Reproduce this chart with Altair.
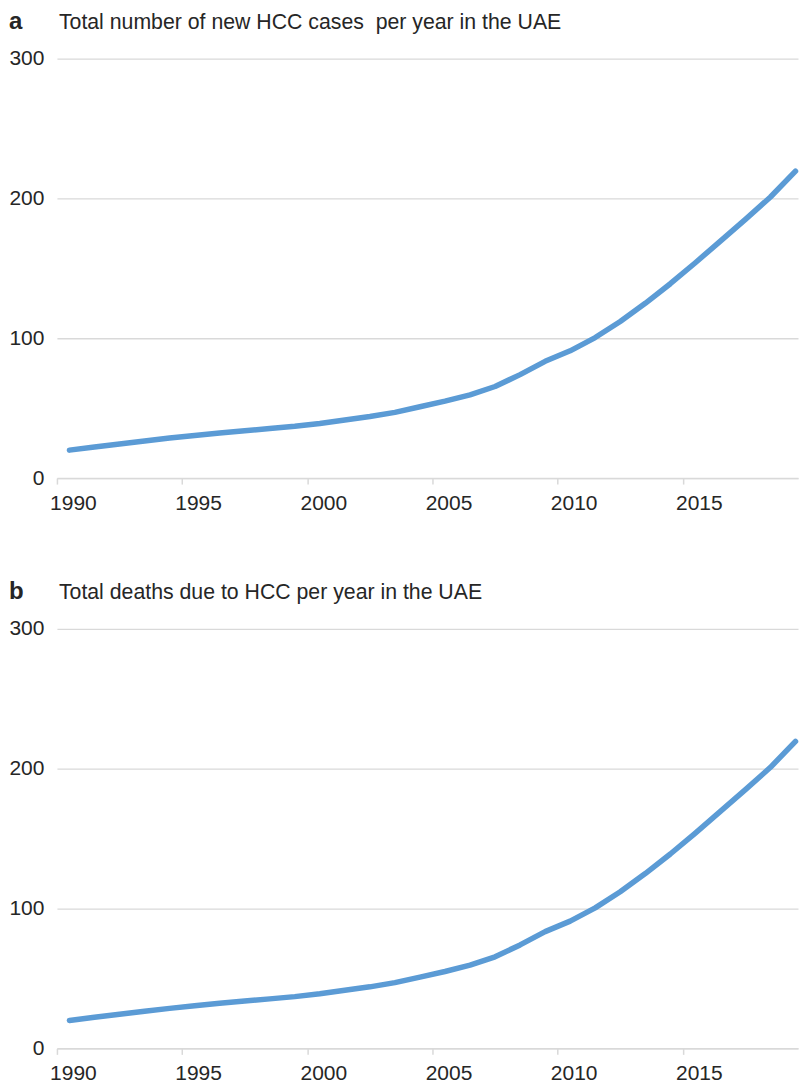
import altair as alt
import pandas as pd

# Yearly series, 1990-2019
years = list(range(1990, 2020))
new_cases = [20, 22.2, 24.4, 26.5, 28.6, 30.5, 32.2, 33.8, 35.4, 37,
             39, 41.5, 44, 47, 51, 55, 59.5, 65.5, 74, 83.5,
             91, 100.5, 112, 125, 139, 154, 169.5, 185, 201, 219.5]
deaths = [20, 22.2, 24.4, 26.5, 28.6, 30.5, 32.2, 33.8, 35.4, 37,
          39, 41.5, 44, 47, 51, 55, 59.5, 65.5, 74, 83.5,
          91, 100.5, 112, 125, 139, 154, 169.5, 185, 201, 219.5]

x_ticks = [1990, 1995, 2000, 2005, 2010, 2015]
y_ticks = [0, 100, 200, 300]

TEXT = "#262626"
GRID = "#d9d9d9"
BLUE = "#5B9BD5"
FONT = "Liberation Sans"
PLOT_W = 742
PLOT_H = 420
STEP = PLOT_W / 29.6  # pixels per year


def panel(letter, heading, values):
    df = pd.DataFrame({"year": years, "value": values})
    x = alt.X(
        "year:Q",
        title=None,
        scale=alt.Scale(domain=[1989.5, 2019.1], nice=False, zero=False),
        axis=alt.Axis(
            values=x_ticks, format="d", grid=False,
            domainColor=GRID, domainWidth=1.5,
            ticks=True, tickSize=6, tickColor=GRID, tickWidth=1.5,
            tickOffset=-STEP / 2, labelOffset=STEP / 2 + 3.5,
            labelFlush=False, labelPadding=8,
            labelFont=FONT, labelFontSize=21, labelColor=TEXT,
        ),
    )
    y = alt.Y(
        "value:Q",
        title=None,
        scale=alt.Scale(domain=[0, 300], nice=False),
        axis=alt.Axis(
            values=y_ticks, domain=False, ticks=False,
            grid=True, gridColor=GRID, gridWidth=1.3,
            labelPadding=13, labelFont=FONT, labelFontSize=21,
            labelColor=TEXT,
        ),
    )
    line = alt.Chart(df).mark_line(
        color=BLUE, strokeWidth=5.5, strokeCap="round", strokeJoin="round"
    ).encode(x=x, y=y)

    tag = alt.Chart(pd.DataFrame({"t": [letter]})).mark_text(
        font=FONT, fontSize=24, fontWeight="bold", color=TEXT,
        align="left", baseline="alphabetic",
    ).encode(text="t:N", x=alt.value(-48), y=alt.value(-30))

    head = alt.Chart(pd.DataFrame({"t": [heading]})).mark_text(
        font=FONT, fontSize=21.3, color=TEXT,
        align="left", baseline="alphabetic",
    ).encode(text="t:N", x=alt.value(2), y=alt.value(-30))

    return alt.layer(line, tag, head).properties(width=PLOT_W, height=PLOT_H)


top = panel("a", "Total number of new HCC cases \u00a0per year in the UAE", new_cases)
bottom = panel("b", "Total deaths due to HCC per year in the UAE", deaths)

chart = alt.vconcat(top, bottom, spacing=151, bounds="flush").properties(
    padding={"left": 8, "top": 9, "right": 0, "bottom": 0}
).configure_view(stroke=None)

chart.save("out.html", embed_options={"renderer": "svg", "actions": False})
